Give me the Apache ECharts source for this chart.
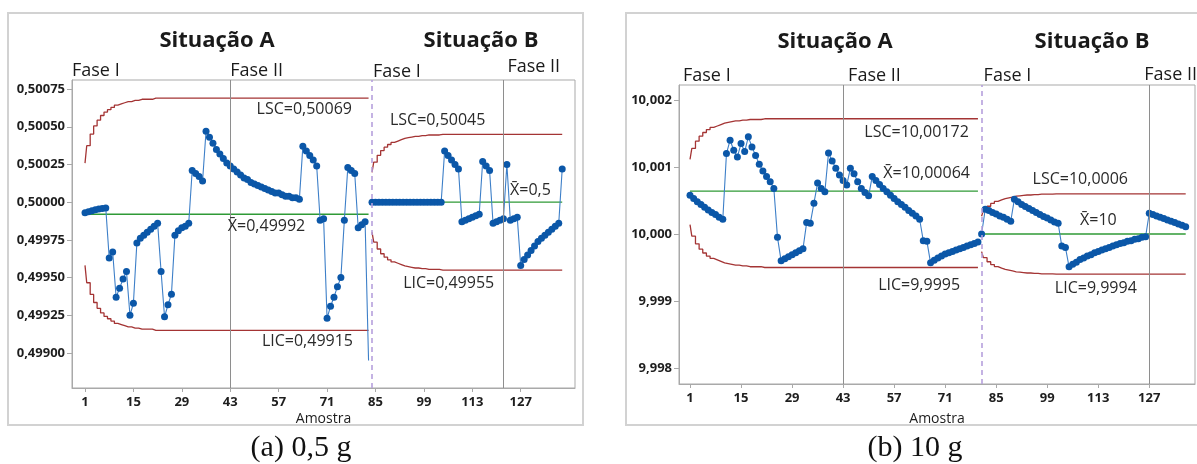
<!DOCTYPE html>
<html>
<head>
<meta charset="utf-8">
<script src="https://cdn.jsdelivr.net/npm/echarts@6/dist/echarts.min.js"></script>
<style>
  html, body { margin: 0; padding: 0; background: #fff; }
  #chart { width: 1197px; height: 464px; }
</style>
</head>
<body>
<div id="chart"></div>
<script>
// ---------- Panel (a): 0,5 g ----------
const aStageAStart = 1;
const aStageAValues = [
  0.49993, 0.499937, 0.499943, 0.499949, 0.499954, 0.499958, 0.499962,
  0.49963, 0.49967,
  0.49937, 0.49943, 0.49949, 0.49954,
  0.49925, 0.49933,
  0.49973, 0.49976, 0.49978, 0.4998, 0.49982, 0.49984, 0.49986,
  0.49954, 0.49924, 0.49932, 0.49939,
  0.49978, 0.49981, 0.49983, 0.49984, 0.49986,
  0.50021, 0.50019, 0.50017, 0.50014,
  0.50047, 0.50043, 0.50039, 0.50035, 0.50032, 0.50029, 0.50026, 0.50024,
  0.50022, 0.5002, 0.50018, 0.50016, 0.50015, 0.50013, 0.50012, 0.50011,
  0.5001, 0.50009, 0.50008, 0.50007, 0.50006, 0.50006, 0.50005, 0.50004,
  0.50004, 0.50003, 0.50003, 0.50002,
  0.50037, 0.50034, 0.50031, 0.50028, 0.50024,
  0.49988, 0.49989,
  0.49923, 0.49931, 0.49937, 0.49944, 0.4995,
  0.49988,
  0.50023, 0.50021, 0.50019,
  0.49983, 0.49985, 0.49987,
  0.49895
];
const aStageBStart = 84;
const aStageBValues = [
  0.5, 0.5, 0.5, 0.5, 0.5, 0.5, 0.5, 0.5, 0.5, 0.5, 0.5,
  0.5, 0.5, 0.5, 0.5, 0.5, 0.5, 0.5, 0.5, 0.5, 0.5,
  0.50034, 0.50031, 0.50028, 0.50025, 0.50022,
  0.49987, 0.49988, 0.49989, 0.4999, 0.49991, 0.49992,
  0.50027, 0.50024, 0.50021,
  0.49986, 0.49987, 0.49988, 0.49989,
  0.50025,
  0.49988, 0.49989, 0.4999,
  0.49958, 0.49962, 0.49965, 0.49968, 0.49971, 0.49974, 0.49976, 0.49978,
  0.4998, 0.49982, 0.49984, 0.49986,
  0.50022
];
const aLimitsA = { center: 0.49992, ucl: 0.50069, lcl: 0.49915 };
const aLimitsB = { center: 0.5, ucl: 0.50045, lcl: 0.49955 };
const aPhaseTwoStarts = [43, 122];
const aYTicks = [0.499, 0.49925, 0.4995, 0.49975, 0.5, 0.50025, 0.5005, 0.50075];

// ---------- Panel (b): 10 g ----------
const bStageAStart = 1;
const bStageAValues = [
  10.00058, 10.00053, 10.00048, 10.00044, 10.0004, 10.00036, 10.00032, 10.00029, 10.00025, 10.00022,
  10.0012, 10.0014, 10.00125, 10.00115, 10.00135, 10.00123, 10.00145, 10.0013, 10.00117, 10.00104,
  10.00094, 10.00086, 10.00078, 10.00068,
  9.99995,
  9.9996, 9.99963, 9.99966, 9.99969, 9.99972, 9.99975, 9.99978,
  10.00017, 10.00016,
  10.00046,
  10.00076, 10.00068, 10.00063,
  10.00121, 10.00109, 10.00098, 10.00088, 10.0008, 10.00073,
  10.00098, 10.0009, 10.00078, 10.00068, 10.00062, 10.00057,
  10.00086, 10.0008, 10.00074, 10.00068, 10.00063, 10.00058, 10.00053, 10.00048,
  10.00044, 10.0004, 10.00035, 10.00031, 10.00027, 10.00022,
  9.9999, 9.99989,
  9.99957, 9.99961, 9.99964, 9.99967, 9.9997, 9.99972, 9.99974, 9.99976,
  9.99978, 9.9998, 9.99982, 9.99984, 9.99986, 9.99988
];
const bStageBStart = 81;
const bStageBValues = [
  10.0,
  10.00037, 10.00035, 10.00032, 10.0003, 10.00027, 10.00025, 10.00022, 10.00019,
  10.00052, 10.00048, 10.00044, 10.00041, 10.00038, 10.00035, 10.00032, 10.00029,
  10.00026, 10.00024, 10.00021, 10.00018, 10.00016,
  9.99982, 9.9998,
  9.99951, 9.99955, 9.99958, 9.99962, 9.99964, 9.99967, 9.99969, 9.99972, 9.99974,
  9.99976, 9.99978, 9.9998, 9.99982, 9.99984, 9.99986, 9.99987, 9.99989, 9.9999,
  9.99992, 9.99993, 9.99995, 9.99996,
  10.00031, 10.00029, 10.00027, 10.00025, 10.00023, 10.00021, 10.00019, 10.00017,
  10.00015, 10.00013, 10.00011
];
const bLimitsA = { center: 10.00064, ucl: 10.00172, lcl: 9.9995 };
const bLimitsB = { center: 10, ucl: 10.0006, lcl: 9.9994 };
const bPhaseTwoStarts = [43, 127];
const bYTicks = [9.998, 9.999, 10, 10.001, 10.002];

// Shared
const xTickLabels = [1, 15, 29, 43, 57, 71, 85, 99, 113, 127];
// Widening of the EWMA limits over the first samples of a stage (share of the steady limit)
const limitRamp = [0.44, 0.59, 0.69, 0.76, 0.81, 0.85, 0.88, 0.90, 0.92, 0.94,
                   0.95, 0.96, 0.97, 0.97, 0.98, 0.98, 0.99, 0.99, 0.99, 0.99, 1];

// ---------- styling ----------
const FONT = '"Open Sans", "DejaVu Sans", sans-serif';
const C_POINT = '#0b57a8';
const C_LINE = '#3d7fc8';
const C_LIMIT = '#a43434';
const C_CENTER = '#2f9a36';
const C_FRAME = '#a9a9a9';
const C_PHASE = '#8e8e8e';
const C_STAGE = '#b6a0dc';

function points(start, values) {
  return values.map((v, i) => [start + i, v]);
}
function limitSteps(start, count, center, limit) {
  const out = [];
  for (let i = 0; i < count; i++) {
    const f = i < limitRamp.length ? limitRamp[i] : 1;
    out.push([start + i, center + (limit - center) * f]);
  }
  return out;
}
function decimalComma(v) { return String(v).replace('.', ','); }

function stageSeries(g, start, values, lim, extraMarks, hideLastMarker) {
  const n = values.length;
  const end = start + n - 1;
  const pts = points(start, values).map((p, i) =>
    (hideLastMarker && i === n - 1) ? { value: p, symbol: 'none' } : p);
  const base = { type: 'line', xAxisIndex: g, yAxisIndex: g, silent: true, animation: false };
  return [
    Object.assign({}, base, {
      data: limitSteps(start, n, lim.center, lim.ucl), step: 'middle', symbol: 'none',
      lineStyle: { color: C_LIMIT, width: 1.3 }, z: 2
    }),
    Object.assign({}, base, {
      data: limitSteps(start, n, lim.center, lim.lcl), step: 'middle', symbol: 'none',
      lineStyle: { color: C_LIMIT, width: 1.3 }, z: 2
    }),
    Object.assign({}, base, {
      data: [[start, lim.center], [end, lim.center]], symbol: 'none',
      lineStyle: { color: C_CENTER, width: 1.3 }, z: 2
    }),
    Object.assign({}, base, {
      data: pts, symbol: 'circle', symbolSize: 7,
      itemStyle: { color: C_POINT },
      lineStyle: { color: C_LINE, width: 1.1 }, z: 4,
      markLine: {
        silent: true, symbol: 'none', label: { show: false }, animation: false,
        data: extraMarks
      }
    })
  ];
}
function vline(x, dashed) {
  return {
    xAxis: x,
    lineStyle: dashed
      ? { color: C_STAGE, width: 1.6, type: [5, 4] }
      : { color: C_PHASE, width: 1, type: 'solid' }
  };
}

function xAxisCfg(g, min, max) {
  return {
    type: 'value', gridIndex: g, min: min, max: max,
    axisLine: { show: true, onZero: false, lineStyle: { color: C_FRAME } },
    axisTick: { show: true, length: 4, customValues: xTickLabels, lineStyle: { color: C_FRAME } },
    axisLabel: { customValues: xTickLabels, fontFamily: FONT, fontSize: 13, fontWeight: 'bold',
                 color: '#1e1e1e', margin: 8 },
    splitLine: { show: false }
  };
}
function yAxisCfg(g, min, max, ticks, digits) {
  return {
    type: 'value', gridIndex: g, min: min, max: max,
    axisLine: { show: true, onZero: false, lineStyle: { color: C_FRAME } },
    axisTick: { show: true, length: 5, customValues: ticks, lineStyle: { color: C_FRAME } },
    axisLabel: { customValues: ticks, fontFamily: FONT, fontSize: 13, fontWeight: 'bold',
                 color: '#1e1e1e', margin: 7,
                 formatter: v => v.toFixed(digits).replace('.', ',') },
    splitLine: { show: false }
  };
}

const series = [].concat(
  stageSeries(0, aStageAStart, aStageAValues, aLimitsA, [vline(aPhaseTwoStarts[0], false)], true),
  stageSeries(0, aStageBStart, aStageBValues, aLimitsB,
              [vline(aStageBStart, true), vline(aPhaseTwoStarts[1], false)], false),
  stageSeries(1, bStageAStart, bStageAValues, bLimitsA, [vline(bPhaseTwoStarts[0], false)], false),
  stageSeries(1, bStageBStart, bStageBValues, bLimitsB,
              [vline(bStageBStart, true), vline(bPhaseTwoStarts[1], false)], false)
);

const option = {
  backgroundColor: '#ffffff',
  animation: false,
  grid: [
    { left: 72, top: 80, width: 503, height: 308, show: true, borderColor: C_FRAME, borderWidth: 1,
      backgroundColor: '#fff' },
    { left: 679, top: 85, width: 516, height: 299, show: true, borderColor: C_FRAME, borderWidth: 1,
      backgroundColor: '#fff' }
  ],
  xAxis: [xAxisCfg(0, -2.76, 142.7), xAxisCfg(1, -2.02, 139.55)],
  yAxis: [yAxisCfg(0, 0.498768, 0.50081, aYTicks, 5), yAxisCfg(1, 9.997761, 10.002224, bYTicks, 3)],
  series: series
};

const chart = echarts.init(document.getElementById('chart'), null, { renderer: 'canvas' });
chart.setOption(option);

// ---------- annotations ----------
const px = (g, x, y) => chart.convertToPixel({ gridIndex: g }, [x, y]);
const XBAR = 'X\u0304';
const texts = [];
function label(g, x, y, dy, text, align) {
  const p = px(g, x, y);
  texts.push({
    type: 'text', z: 20,
    style: { x: p[0], y: p[1] + dy, text: text, font: '16px ' + FONT, fill: '#2a2a2a',
             align: align, verticalAlign: 'middle' }
  });
}
// panel (a)
label(0, 78.2, aLimitsA.ucl, 11, 'LSC=' + decimalComma(aLimitsA.ucl), 'right');
label(0, 42.3, aLimitsA.center, 12, XBAR + '=' + decimalComma(aLimitsA.center), 'left');
label(0, 78.5, aLimitsA.lcl, 11, 'LIC=' + decimalComma(aLimitsA.lcl), 'right');
label(0, 89.2, aLimitsB.ucl, -14, 'LSC=' + decimalComma(aLimitsB.ucl), 'left');
label(0, 123.9, aLimitsB.center, -12, XBAR + '=' + decimalComma(aLimitsB.center), 'left');
label(0, 93, aLimitsB.lcl, 13, 'LIC=' + decimalComma(aLimitsB.lcl), 'left');
// panel (b)
label(1, 77.5, bLimitsA.ucl, 14, 'LSC=' + decimalComma(bLimitsA.ucl), 'right');
label(1, 77.8, bLimitsA.center, -18, XBAR + '=' + decimalComma(bLimitsA.center), 'right');
label(1, 75.1, bLimitsA.lcl, 18, 'LIC=' + decimalComma(bLimitsA.lcl), 'right');
label(1, 95.0, bLimitsB.ucl, -14, 'LSC=' + decimalComma(bLimitsB.ucl), 'left');
label(1, 108.0, bLimitsB.center, -14, XBAR + '=' + decimalComma(bLimitsB.center), 'left');
label(1, 101.1, bLimitsB.lcl, 14, 'LIC=' + decimalComma(bLimitsB.lcl), 'left');

function plain(x, y, text, font, align, z) {
  texts.push({ type: 'text', z: z || 20,
    style: { x: x, y: y, text: text, font: font, fill: '#1a1a1a', align: align, verticalAlign: 'middle' } });
}
const titleFont = 'bold 22px ' + FONT;
const phaseFont = '18px ' + FONT;
plain(217, 41, 'Situação A', titleFont, 'center');
plain(481, 41, 'Situação B', titleFont, 'center');
plain(835, 42, 'Situação A', titleFont, 'center');
plain(1092, 42, 'Situação B', titleFont, 'center');

plain(72, 71, 'Fase I', phaseFont, 'left');
plain(px(0, aPhaseTwoStarts[0], 0.5)[0], 71, 'Fase II', phaseFont, 'left');
plain(px(0, aStageBStart, 0.5)[0] + 1, 72, 'Fase I', phaseFont, 'left');
plain(px(0, aPhaseTwoStarts[1], 0.5)[0] + 4, 67, 'Fase II', phaseFont, 'left');
plain(683, 76, 'Fase I', phaseFont, 'left');
plain(px(1, bPhaseTwoStarts[0], 10)[0] + 5, 76, 'Fase II', phaseFont, 'left');
plain(px(1, bStageBStart, 10)[0] + 2, 76, 'Fase I', phaseFont, 'left');
plain(px(1, bPhaseTwoStarts[1], 10)[0] - 5, 75, 'Fase II', phaseFont, 'left');

// axis names
texts.push({ type: 'text', z: 10, style: { x: 323.5, y: 412, text: 'Amostra', font: '14px ' + FONT,
  fill: '#1e1e1e', align: 'center', verticalAlign: 'top' } });
texts.push({ type: 'text', z: 10, style: { x: 937, y: 412, text: 'Amostra', font: '14px ' + FONT,
  fill: '#1e1e1e', align: 'center', verticalAlign: 'top' } });

const frames = [
  // strip under the panels
  { type: 'rect', z: 50, shape: { x: 0, y: 425, width: 1197, height: 39 }, style: { fill: '#fff' } },
  { type: 'rect', z: 60, shape: { x: 8, y: 13, width: 575, height: 412 },
    style: { fill: 'none', stroke: '#d2d2d2', lineWidth: 2 } },
  { type: 'rect', z: 60, shape: { x: 626, y: 13, width: 580, height: 412 },
    style: { fill: 'none', stroke: '#d2d2d2', lineWidth: 2 } },
  { type: 'text', z: 70, style: { x: 301, y: 448, text: '(a) 0,5 g',
    font: '30px "Liberation Serif", "DejaVu Serif", serif', fill: '#111', align: 'center', verticalAlign: 'middle' } },
  { type: 'text', z: 70, style: { x: 915, y: 448, text: '(b) 10 g',
    font: '30px "Liberation Serif", "DejaVu Serif", serif', fill: '#111', align: 'center', verticalAlign: 'middle' } }
];

chart.setOption({ graphic: { elements: texts.concat(frames) } });
</script>
</body>
</html>
